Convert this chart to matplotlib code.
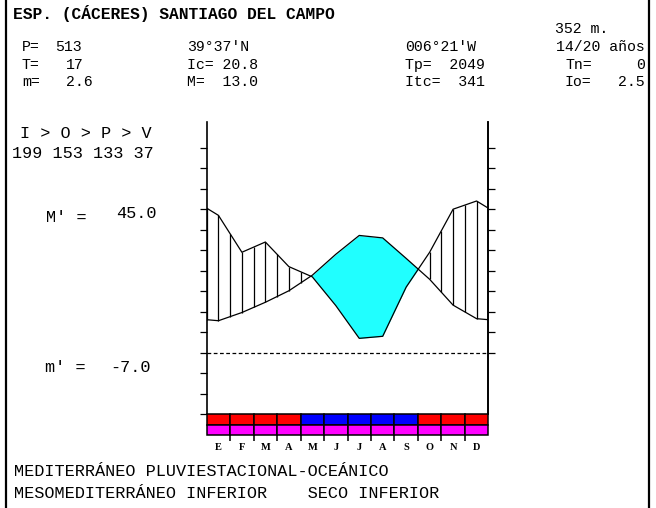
import numpy as np
import matplotlib.pyplot as plt
from matplotlib.lines import Line2D

W, H = 656, 508

months = ['E', 'F', 'M', 'A', 'M', 'J', 'J', 'A', 'S', 'O', 'N', 'D']
temp = [7.8, 9.8, 12.3, 15.1, 18.9, 24.0, 28.6, 28.0, 23.0, 17.9, 11.6, 8.3]   # C
prec = [67, 49, 54, 42, 37, 23, 7, 8, 32, 49, 70, 74]                          # mm
frost_row = ['#FF00FF'] * 12

# dry months (P < 2T) blue, the rest red
dry_row = ['#0000FF' if p < 2 * t else '#FF0000' for p, t in zip(prec, temp)]

MONO = 'Liberation Mono'


def fx(x):
    return x / W


def fy(y):
    return 1 - y / H


fig = plt.figure(figsize=(W / 100, H / 100), dpi=100)

x0, x1 = 206.7, 488.3
ytop, ybot = 122, 414.3
ax = fig.add_axes([fx(x0), fy(ybot), (x1 - x0) / W, (ybot - ytop) / H])

# curves, wrapped at the year edges
xs = np.concatenate([[0], np.arange(12) + 0.5, [12]])
t = np.array(temp)
p = np.array(prec) / 2.0
t_ext = np.concatenate([[(t[0] + t[-1]) / 2], t, [(t[0] + t[-1]) / 2]])
p_ext = np.concatenate([[(p[0] + p[-1]) / 2], p, [(p[0] + p[-1]) / 2]])

xf = np.linspace(0, 12, 2401)
tf = np.interp(xf, xs, t_ext)
pf = np.interp(xf, xs, p_ext)
ax.fill_between(xf, pf, tf, where=tf > pf, interpolate=True,
                color='#20FFFF', lw=0, zorder=1)

xh = np.arange(0, 12.01, 0.5)
th = np.interp(xh, xs, t_ext)
ph = np.interp(xh, xs, p_ext)
wet = ph > th
ax.vlines(xh[wet], th[wet], ph[wet], colors='k', lw=0.9, zorder=2)

ax.plot(xs, t_ext, color='k', lw=0.9, zorder=3)
ax.plot(xs, p_ext, color='k', lw=0.9, zorder=3)
ax.axhline(0, color='k', lw=0.9, ls=(0, (3, 2)), zorder=3)

ylo = -(ybot - 352.7) / 4.1
yhi = (352.7 - ytop) / 4.1
ax.set_xlim(0, 12)
ax.set_ylim(ylo, yhi)
ax.set_xticks([])
ax.set_yticks(np.arange(-15, 51, 5))
ax.tick_params(axis='y', direction='out', length=5, width=0.9, labelleft=False)
for s in ['top', 'bottom']:
    ax.spines[s].set_visible(False)
for s in ['left', 'right']:
    ax.spines[s].set_linewidth(1.2)

ax2 = ax.twinx()
ax2.set_ylim(ylo, yhi)
ax2.set_yticks(np.arange(0, 51, 5))
ax2.tick_params(axis='y', direction='out', length=5, width=0.9, labelright=False)
for s in ['top', 'bottom', 'left']:
    ax2.spines[s].set_visible(False)
ax2.spines['right'].set_linewidth(1.2)

# month bars
axb = fig.add_axes([fx(x0), fy(435), (x1 - x0) / W, (435 - ybot) / H])
mx = np.arange(12) + 0.5
axb.bar(mx, 1, width=1, bottom=1, color=dry_row, edgecolor='k', lw=1.1, clip_on=False)
axb.bar(mx, 1, width=1, bottom=0, color=frost_row, edgecolor='k', lw=1.1, clip_on=False)
axb.set_xlim(0, 12)
axb.set_ylim(0, 2)
axb.set_yticks([])
for s in axb.spines.values():
    s.set_visible(False)
axb.set_xticks(range(1, 12))
axb.set_xticklabels([])
axb.tick_params(axis='x', which='major', direction='out', length=4, width=1.1)
axb.set_xticks(mx, minor=True)
axb.set_xticklabels(months, minor=True, family='Liberation Serif',
                    weight='bold', size=7.5)
axb.tick_params(axis='x', which='minor', length=0, pad=6)

# texts
head = dict(family=MONO, size=10.7, va='center')
body = dict(family=MONO, size=12.2, va='center')
fig.text(fx(13), fy(13), 'ESP. (CÁCERES) SANTIAGO DEL CAMPO',
         family=MONO, size=11.7, weight='bold', va='center')
fig.text(fx(555), fy(29), '352 m.', **head)

rows = [47, 65, 82]
fig.text(fx(22), fy(rows[0]), 'P=', **head)
fig.text(fx(55), fy(rows[0]), '513', **head)
fig.text(fx(22), fy(rows[1]), 'T=', **head)
fig.text(fx(66), fy(rows[1]), '17', **head)
fig.text(fx(22), fy(rows[2]), 'm=', **head)
fig.text(fx(66), fy(rows[2]), '2.6', **head)

fig.text(fx(187), fy(rows[0]), "39°37'N", **head)
fig.text(fx(187), fy(rows[1]), 'Ic= 20.8', **head)
fig.text(fx(187), fy(rows[2]), 'M=  13.0', **head)

fig.text(fx(405), fy(rows[0]), "006°21'W", **head)
fig.text(fx(405), fy(rows[1]), 'Tp=  2049', **head)
fig.text(fx(405), fy(rows[2]), 'Itc=  341', **head)

fig.text(fx(645), fy(rows[0]), '14/20 años', ha='right', **head)
fig.text(fx(565), fy(rows[1]), 'Tn=', **head)
fig.text(fx(645), fy(rows[1]), '0', ha='right', **head)
fig.text(fx(565), fy(rows[2]), 'Io=', **head)
fig.text(fx(645), fy(rows[2]), '2.5', ha='right', **head)

fig.text(fx(20), fy(134), 'I > O > P > V', **body)
fig.text(fx(12), fy(154), '199 153 133 37', **body)
fig.text(fx(46), fy(217), "M' =", **body)
fig.text(fx(116), fy(214), '45.0', **body)
fig.text(fx(45), fy(367), "m' =", **body)
fig.text(fx(110), fy(367), '-7.0', **body)

fig.text(fx(14), fy(472), 'MEDITERRÁNEO PLUVIESTACIONAL-OCEÁNICO', **body)
fig.text(fx(14), fy(494), 'MESOMEDITERRÁNEO INFERIOR    SECO INFERIOR', **body)

# frame
fig.add_artist(Line2D([fx(6), fx(6)], [0, 1], color='k', lw=1.6))
fig.add_artist(Line2D([fx(649), fx(649)], [0, 1], color='k', lw=1.6))

fig.savefig('out.png', dpi=100)
